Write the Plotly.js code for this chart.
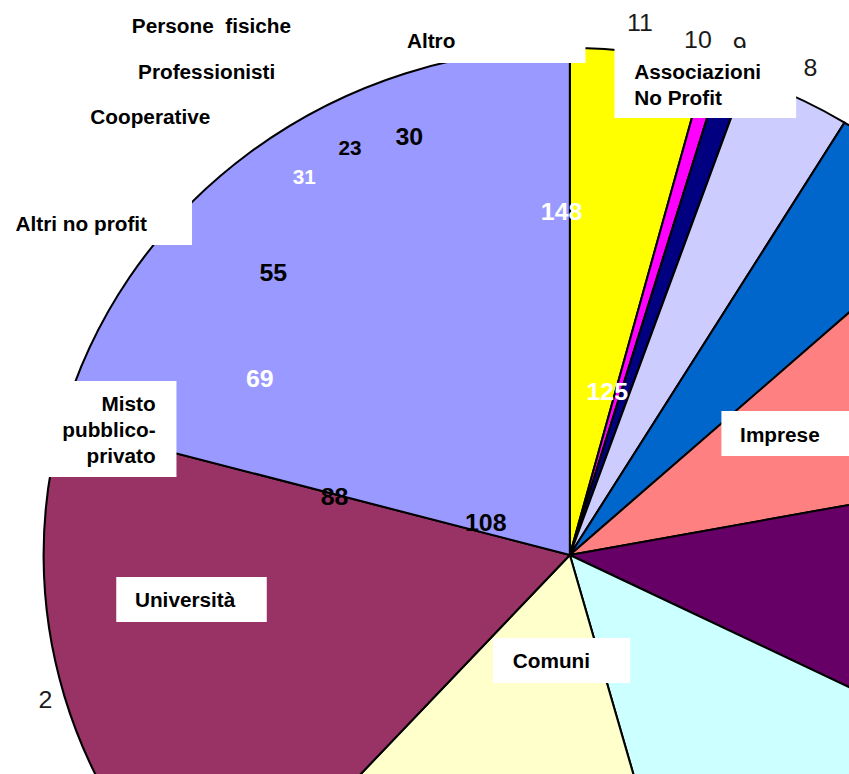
<!DOCTYPE html>
<html><head><meta charset="utf-8">
<script src="https://cdn.plot.ly/plotly-3.0.1.min.js"></script>
<style>
html,body{margin:0;padding:0;background:#fff;overflow:hidden;}
#wrap{position:relative;width:849px;height:774px;overflow:hidden;background:#fff;}
#chart{position:absolute;left:0;top:0;width:1056px;height:1062px;transform:scaleX(1.038);transform-origin:0 0;}
</style></head><body><div id="wrap"><div id="chart"></div></div>
<script>
// ---- data (slices in series order, laid out counter-clockwise from 12 o'clock) ----
const categories = ['1','2','3','4','5','6','7','8','9','10','11'];
const values = [143, 119, 111, 92, 70, 60, 31.5, 22.7, 5.2, 3.4, 28.7];
const categoryLabels = ['Persone \u00A0fisiche','Professionisti','Cooperative','Altri no profit','Altro',
  'Associazioni<br>No Profit','Misto<br>pubblico-<br>privato','Università','Imprese','Comuni'];
const valueLabels = ['148','125','108','88','69','55','31','23','30'];
const indexLabels = ['11','10','9','8','2'];

// ---- styles / geometry ----
const sliceColors = ['#9999FF','#993366','#FFFFCC','#CCFFFF','#660066','#FF8080','#0066CC','#CCCCFF','#000080','#FF00FF','#FFFF00'];
const SX = 1.038, L = 42, T = 48, P = 1014;
const FONT = 'Liberation Sans, Arial, Helvetica, sans-serif';
const X = px => (px / SX - L) / P;
const Y = py => 1 - (py - T) / P;

const ann = [];
// index labels (drawn first, under boxes)
const idxPos = [[640,22],[698,39],[740,46],[810,68],[45,699]];
indexLabels.forEach((t,i)=>ann.push({text:t, x:X(idxPos[i][0]), y:Y(idxPos[i][1]), xref:'paper', yref:'paper',
  showarrow:false, xanchor:'center', yanchor:'middle', borderpad:0, borderwidth:0,
  font:{family:FONT, size:24, color:'#1a1a1a'}}));
// white label boxes
const boxes = [[-10,200,192,245],[277,19,585,63],[614,48,796,118],[40,381,176,477],[116,577,267,622],[721,411,860,456],[493,638,630,683]];
boxes.forEach(b=>ann.push({text:'\u00A0', x:X((b[0]+b[2])/2), y:Y((b[1]+b[3])/2), xref:'paper', yref:'paper',
  showarrow:false, xanchor:'center', yanchor:'middle', width:(b[2]-b[0])/SX, height:(b[3]-b[1]),
  bgcolor:'#ffffff', borderpad:0, borderwidth:0, font:{size:10}}));
// category labels
const catPos = [[211,26,'center'],[207,72,'center'],[150,117,'center'],[82,224,'center'],[431,41,'center'],
  [634,85,'left'],[156,430,'right'],[186,600,'center'],[780,435,'center'],[551,661,'center']];
categoryLabels.forEach((t,i)=>ann.push({text:t, x:X(catPos[i][0]), y:Y(catPos[i][1]), xref:'paper', yref:'paper',
  showarrow:false, xanchor:catPos[i][2], yanchor:'middle', align:catPos[i][2], borderpad:0, borderwidth:0,
  font:{family:FONT, size:20, color:'#000000', weight:'bold'}}));
// value labels
const valPos = [[562,211,24,'#ffffff'],[607,392,24,'#ffffff'],[486,522,24,'#000000'],[335,497,24,'#000000'],
  [260,378,24,'#ffffff'],[274,272,24,'#000000'],[304,177,20,'#ffffff'],[350,148,20,'#000000'],[410,136,24,'#000000']];
valueLabels.forEach((t,i)=>ann.push({text:t, x:X(valPos[i][0]), y:Y(valPos[i][1]), xref:'paper', yref:'paper',
  showarrow:false, xanchor:'center', yanchor:'middle', borderpad:0, borderwidth:0,
  font:{family:FONT, size:valPos[i][2], color:valPos[i][3], weight:'bold'}}));

// Plotly lays slices clockwise from 12 o'clock, so feed the series reversed
const trace = {
  type:'pie', labels:categories.slice().reverse(), values:values.slice().reverse(),
  sort:false, direction:'clockwise', rotation:0,
  marker:{colors:sliceColors.slice().reverse(), line:{color:'#000000', width:2}},
  textinfo:'none', hoverinfo:'none', showlegend:false,
  domain:{x:[0,1], y:[0,1]}
};
const layout = {
  width:1056, height:1062, autosize:false,
  margin:{l:L, t:T, r:0, b:0, pad:0},
  paper_bgcolor:'#ffffff', plot_bgcolor:'#ffffff',
  showlegend:false, annotations:ann
};
Plotly.newPlot('chart',[trace],layout,{staticPlot:true, displayModeBar:false});
</script></body></html>
